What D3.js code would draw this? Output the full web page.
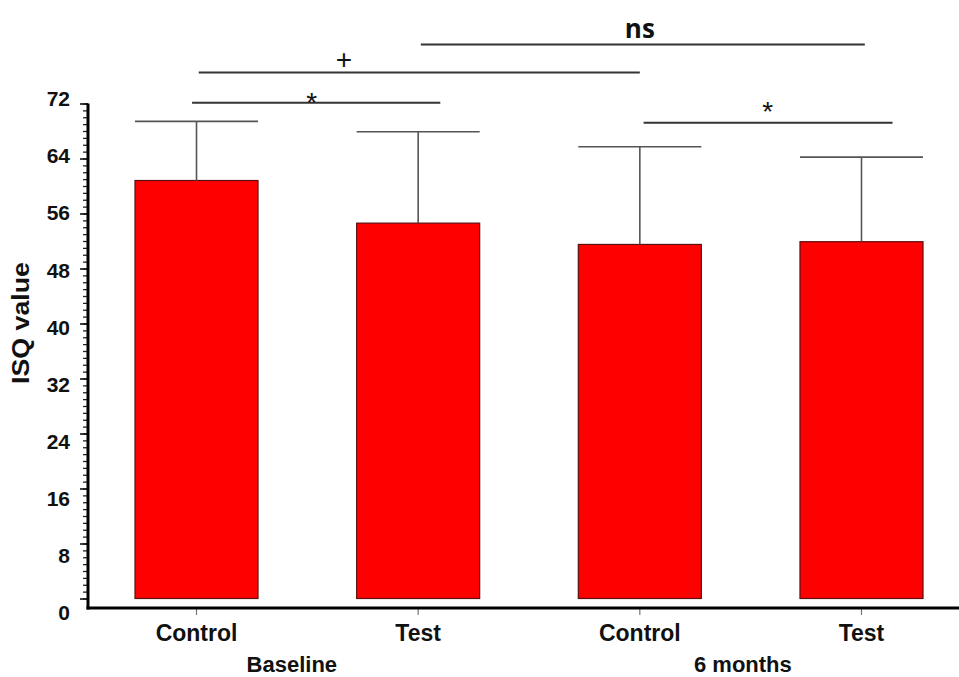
<!DOCTYPE html>
<html>
<head>
<meta charset="utf-8">
<script src="https://cdn.jsdelivr.net/npm/d3@7"></script>
<style>
  html, body { margin: 0; padding: 0; background: #fff; }
  svg { display: block; }
</style>
</head>
<body>
<svg id="chart" width="959" height="677"></svg>
<script>
// ---- data ----
const categories = ["Control", "Test", "Control", "Test"];
const groups = ["Baseline", "Baseline", "6 months", "6 months"];
const groupNames = ["Baseline", "6 months"];
const means = [60.8, 54.6, 51.5, 51.9];
const sds = [8.6, 13.3, 14.2, 12.3];
const yTicks = [0, 8, 16, 24, 32, 40, 48, 56, 64, 72];
const comparisons = [
  { from: 0, to: 1, label: "*" },
  { from: 0, to: 2, label: "+" },
  { from: 1, to: 3, label: "ns" },
  { from: 2, to: 3, label: "*" }
];

// ---- layout (styling / placement, not data) ----
const compLayout = [
  { level: 72.1, x0: -0.02, x1: 1.10, tx: 0.52, ty: 70.7, size: 28, font: "'Liberation Sans', Arial, sans-serif", weight: "normal" },
  { level: 76.5, x0: 0.01, x1: 2.0, tx: 0.665, ty: 77.0, size: 28, font: "'Liberation Sans', Arial, sans-serif", weight: "normal" },
  { level: 80.6, x0: 1.012, x1: 3.015, tx: 2.0, ty: 81.5, size: 26, font: "'Liberation Sans Narrow', 'Open Sans', sans-serif", weight: "bold" },
  { level: 69.2, x0: 2.017, x1: 3.14, tx: 2.577, ty: 69.45, size: 28, font: "'Liberation Sans', Arial, sans-serif", weight: "normal" }
];
const groupLabelPos = [0.43, 2.465];

const svg = d3.select("#chart");
const W = 959, H = 677;
const FONT = "'Liberation Sans', Arial, sans-serif";

const y = d3.scaleLinear().domain([0, 72]).range([598.5, 103.5]);
const yLab = d3.scaleLinear().domain([0, 72]).range([613, 99]);
const x = d3.scaleBand().domain(d3.range(categories.length))
  .range([88, 970]).paddingInner(0.445).paddingOuter(0.212);
const cx = i => x(0) + x.bandwidth() / 2 + i * x.step();

// bars
svg.append("g").selectAll("rect").data(means).join("rect")
  .attr("x", (d, i) => x(i))
  .attr("y", d => y(d))
  .attr("width", x.bandwidth())
  .attr("height", d => y(0) - y(d))
  .attr("fill", "#ff0000")
  .attr("stroke", "#5a1010")
  .attr("stroke-width", 1.2);

// error bars (upper only)
const eb = svg.append("g").attr("stroke", "#555").attr("fill", "none");
means.forEach((m, i) => {
  eb.append("line").attr("x1", cx(i)).attr("x2", cx(i))
    .attr("y1", y(m)).attr("y2", y(m + sds[i])).attr("stroke-width", 1.6);
  eb.append("line").attr("x1", x(i)).attr("x2", x(i) + x.bandwidth())
    .attr("y1", y(m + sds[i])).attr("y2", y(m + sds[i])).attr("stroke-width", 1.6);
});

// y axis minor ticks
svg.append("g").attr("transform", "translate(88,0)")
  .call(d3.axisLeft(y).tickValues(d3.range(0, 73, 1)).tickSize(5).tickFormat(""))
  .call(g => g.select(".domain").remove())
  .call(g => g.selectAll("line").attr("stroke", "#222").attr("stroke-width", 1.3));
// y axis major ticks
svg.append("g").attr("transform", "translate(88,0)")
  .call(d3.axisLeft(y).tickValues(yTicks).tickSize(8).tickFormat(""))
  .call(g => g.select(".domain").remove())
  .call(g => g.selectAll("line").attr("stroke", "#111").attr("stroke-width", 1.6));
// y tick labels
svg.append("g").attr("transform", "translate(88,0)")
  .call(d3.axisLeft(yLab).tickValues(yTicks).tickSize(0).tickPadding(18).tickFormat(d3.format("d")))
  .call(g => g.select(".domain").remove())
  .call(g => g.selectAll("text")
    .attr("font-family", FONT)
    .attr("font-weight", "bold").attr("font-size", 21).attr("fill", "#111"));

// y axis line
svg.append("line").attr("x1", 88).attr("x2", 88).attr("y1", y(72)).attr("y2", 609.5)
  .attr("stroke", "#000").attr("stroke-width", 3);

// x axis
const xAxisY = 608;
svg.append("g").attr("transform", `translate(0,${xAxisY})`)
  .call(d3.axisBottom(x).tickSize(7).tickPadding(10).tickFormat(i => categories[i]))
  .call(g => g.select(".domain").remove())
  .call(g => g.selectAll("line").attr("stroke", "#777").attr("stroke-width", 1.2))
  .call(g => g.selectAll("text")
    .attr("font-family", FONT)
    .attr("font-weight", "bold").attr("font-size", 23).attr("fill", "#111"));
svg.append("line").attr("x1", 86.5).attr("x2", W).attr("y1", xAxisY).attr("y2", xAxisY)
  .attr("stroke", "#000").attr("stroke-width", 3);

// group labels
svg.append("g").selectAll("text").data(groupNames).join("text")
  .attr("x", (d, i) => cx(groupLabelPos[i]))
  .attr("y", 672)
  .attr("text-anchor", "middle")
  .attr("font-family", FONT)
  .attr("font-weight", "bold").attr("font-size", 22).attr("fill", "#111")
  .text(d => d);

// y axis title
svg.append("text")
  .attr("transform", `translate(29,323) rotate(-90)`)
  .attr("text-anchor", "middle")
  .attr("font-family", FONT)
  .attr("font-weight", "bold").attr("font-size", 24).attr("fill", "#111")
  .attr("textLength", 122).attr("lengthAdjust", "spacingAndGlyphs")
  .text("ISQ value");

// significance bars
const sg = svg.append("g");
comparisons.forEach((c, k) => {
  const L = compLayout[k];
  sg.append("line")
    .attr("x1", cx(L.x0)).attr("x2", cx(L.x1))
    .attr("y1", y(L.level)).attr("y2", y(L.level))
    .attr("stroke", "#333").attr("stroke-width", 2);
  sg.append("text")
    .attr("x", cx(L.tx)).attr("y", y(L.ty))
    .attr("text-anchor", "middle")
    .attr("font-family", L.font).attr("font-weight", L.weight)
    .attr("font-size", L.size).attr("fill", "#111")
    .text(c.label);
});
</script>
</body>
</html>
